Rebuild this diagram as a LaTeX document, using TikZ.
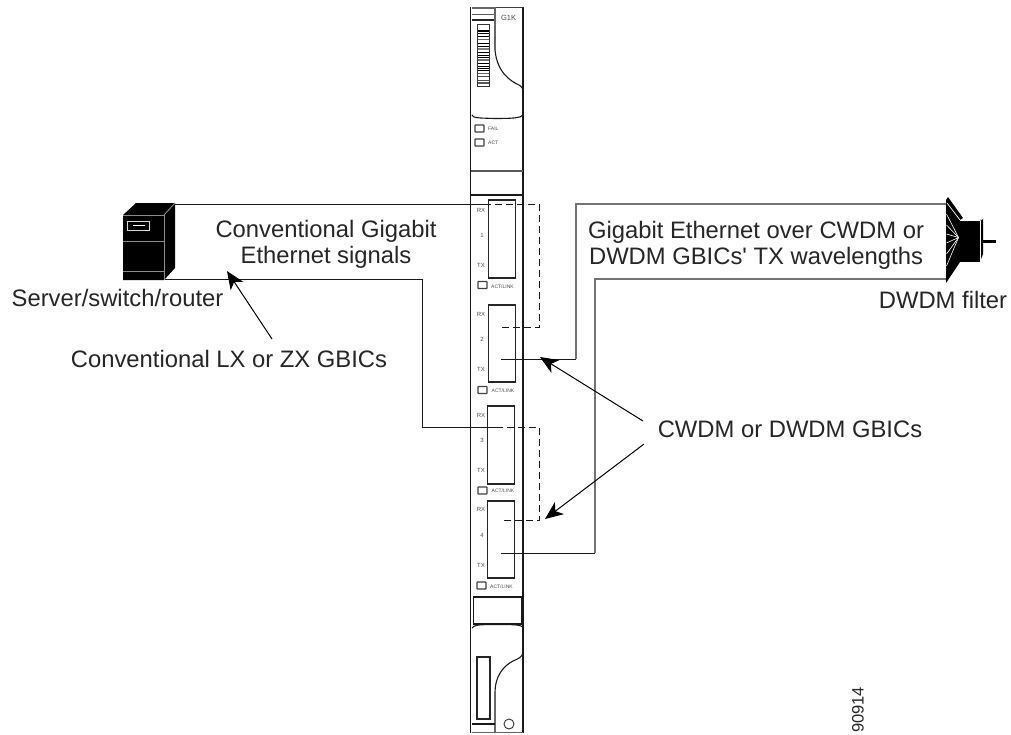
\documentclass[tikz,border=0pt]{standalone}
\usepackage{fontspec}
\newfontfamily\plainsans{Liberation Sans}
\usetikzlibrary{arrows.meta}
\tikzset{
  x=1pt,y=-1pt,
  lbl/.style={font=\plainsans\fontsize{23.8}{25.5}\selectfont,text=black!85,inner sep=0pt,align=center},
  tiny/.style={font=\plainsans\fontsize{5}{6}\selectfont,text=black!70,inner sep=0pt},
  small/.style={font=\plainsans\fontsize{6}{7}\selectfont,text=black!70,inner sep=0pt},
  panel/.style={line width=1.1pt,black!90},
  modbox/.style={draw=black!85,line width=1.1pt,minimum width=27pt,inner sep=0pt,fill=none},
  ledbox/.style={draw=black!75,line width=1.1pt,minimum width=9pt,minimum height=7pt,inner sep=0pt,rounded corners=0.5pt},
  cable/.style={line width=1pt,black!90},
  gcable/.style={line width=1.4pt,black!55},
  dcable/.style={line width=1pt,black!90,dash pattern=on 7pt off 4pt},
  callout/.style={line width=1pt,black,-{Stealth[length=18pt,width=15pt,inset=5pt]}},
}
\begin{document}
\begin{tikzpicture}
\useasboundingbox (0,0) rectangle (1011,734);
% --- card outline
\draw[panel] (470.5,7) -- (470.5,733);
\draw[panel] (523,7) -- (523,733);
\draw[line width=1.6pt,black!75] (495,7.5) -- (523,7.5);
\draw[line width=1.2pt,black!60] (472,8) -- (495,8);
\draw[line width=1.3pt,black!65] (472,14.5) -- (495,14.5);
\draw[line width=1.1pt,black!85] (472,20) -- (495,20);
\draw[line width=1.2pt,black!60] (495,7) -- (495,50);
\draw[panel] (495,50) .. controls (497,72) and (510,81) .. (519,85) .. controls (522,87) and (523,88) .. (523,92);
% barcode
\node[draw=black!80,line width=0.9pt,minimum width=11.5pt,minimum height=62pt,inner sep=0pt] (bar) at (483.3,55) {};
\foreach \yy/\ww/\cc in {31/1.3/black,33/1/black,36/0.8/black,39/1/black!60,43/1/black,46/0.8/black,49/2/black!50,52/1/black,55/0.8/black,57/0.8/black,60/2/black!55,63/1/black,66/1/black,68/1/black,70/1/black,73/1/black!60,76/0.8/black!70,80/1/black!70,83/2.4/black!65}
  \draw[line width=\ww pt,\cc] (478,\yy) -- (488.7,\yy);
% curve under latch
\draw[panel] (472,115) .. controls (473,118) and (478,118) .. (495,118.5) .. controls (512,118.5) and (521,118) .. (523,115);
% LEDs
\node[ledbox] (fail) at (479.5,128.5) {};
\node[ledbox] (act) at (479.5,142.5) {};
\node[tiny,anchor=west] at (488,129) {FAIL};
\node[tiny,anchor=west] at (488,143) {ACT};
\node[font=\plainsans\fontsize{7.5}{9}\selectfont,text=black!70,inner sep=0pt] at (508.5,18) {G1K};
\draw[line width=1.3pt,black!65] (470.5,171) -- (523,171);
\draw[line width=1.1pt,black!90] (471,195) -- (523,195);
% --- modules
\node[modbox,minimum height=78pt] (m1) at (501.7,239) {};
\node[modbox,minimum height=77pt] (m2) at (501.7,343.5) {};
\node[modbox,minimum height=78pt] (m3) at (501.3,445) {};
\node[modbox,minimum height=77pt] (m4) at (501.3,539.5) {};
\foreach \rx/\n/\tx/\nn in {210/1/265/1,314/2/369/2,415/3/470/3,509/4/565/4}{
  \pgfmathtruncatemacro{\mid}{(\rx+\tx)/2-2}
  \node[small] at (481,\rx) {RX};
  \node[small] at (482,\mid) {\n};
  \node[small] at (481,\tx) {TX};
}
\node[ledbox] (l1) at (482.5,285) {};
\node[ledbox] (l2) at (482.5,390) {};
\node[ledbox] (l3) at (482.5,490.5) {};
\node[ledbox] (l4) at (481.5,585.5) {};
\node[tiny,anchor=west] at (491,287) {ACT/LINK};
\node[tiny,anchor=west] at (491.5,391) {ACT/LINK};
\node[tiny,anchor=west] at (491.5,491) {ACT/LINK};
\node[tiny,anchor=west] at (490,587) {ACT/LINK};
% --- bottom of card
\node[draw=black!90,line width=1.1pt,minimum width=48pt,minimum height=27pt,inner sep=0pt] (lat) at (497.5,610.5) {};
\draw[panel] (472,628) .. controls (474,625) and (478,624.5) .. (495,624.5) .. controls (512,624.5) and (520,624.5) .. (523,627);
\draw[panel] (523,653) .. controls (522,657) and (518,659) .. (513,661) .. controls (503,666) and (495,677) .. (495,692) -- (495,733);
\node[draw=black!85,line width=1.1pt,minimum width=13pt,minimum height=62pt,inner sep=0pt] (slot) at (483.5,688) {};
\draw[panel] (472,724) -- (495,724);
\draw[line width=1.1pt,black!60] (472,732.5) -- (523,732.5);
\node[draw=black!80,line width=0.9pt,circle,minimum size=10pt,inner sep=0pt] (hole) at (509,724) {};
% --- server
\fill[black] (123,215) -- (136,203) -- (175,203) -- (175,268) -- (164,280) -- (123,280) -- cycle;
\draw[line width=0.9pt,black!45] (123,215) -- (164,215) -- (164,280);
\draw[line width=0.9pt,black!45] (164,215) -- (175,203);
\draw[line width=0.9pt,black!45] (123,241) -- (164,241);
\draw[line width=0.9pt,black!45] (123,271) -- (164,271);
\node[draw=white!85!black,line width=0.9pt,minimum width=22pt,minimum height=9pt,inner sep=0pt] (win) at (138,225.5) {};
\draw[white,line width=0.9pt] (133,225.5) -- (145,225.5);
% --- filter
\fill[black] (946,200) -- (948,197) -- (963,218) -- (960,220) -- (960,262) -- (946,283) -- cycle;
\fill[black] (960,220) rectangle (980,262);
\fill[black] (980,220) -- (983,218) -- (983,254) -- (980,262) -- cycle;
\draw[white,line width=0.7pt] (963,218.5) -- (983,218.5);
\draw[white,line width=0.7pt] (960,220.5) -- (980,220.5) -- (983,218.5);
\draw[white,line width=0.7pt] (980,220.5) -- (980,262);
\draw[white,line width=0.7pt] (947,203) -- (960,220);
\foreach \yy in {214,225,234,243,254,266}
  \draw[white,line width=0.6pt] (958.5,237.5) -- (946.5,\yy);
\fill[black] (983,239.5) rectangle (996,243);
% --- connectors
\coordinate (srvTop) at (175,204);
\coordinate (srvBot) at (165,279);
\coordinate (fTop) at (946,204);
\coordinate (fBot) at (946,279);
\coordinate (m1d) at (488,204);
\coordinate (m2d) at (502,327.5);
\coordinate (m2t) at (501,359);
\coordinate (m3d) at (502,427);
\coordinate (m4d) at (504,520.5);
\coordinate (m4t) at (501,553);
\draw[cable] (srvTop) -- (m1d);
\draw[dcable] (m2d) -- (539,327.5) -- (539,204) -- (m1d);
\draw[cable] (srvBot) -- (422.5,279) -- (422.5,427) -- (m3d);
\draw[dcable] (m4d) -- (539,520.5) -- (539,427) -- (m3d);
\draw[gcable] (fTop) -- (576,204) -- (576,359);
\draw[cable] (576,359) -- (m2t);
\draw[gcable] (fBot) -- (595,279) -- (595,553);
\draw[cable] (595,553) -- (m4t);
% --- callouts
\coordinate (lxTail) at (272,339);
\coordinate (lxTip) at (227,271);
\coordinate (cTail1) at (643,421);
\coordinate (cTip1) at (540,357);
\coordinate (cTail2) at (644,444);
\coordinate (cTip2) at (545,519);
\draw[callout] (lxTail) -- (lxTip);
\draw[callout] (cTail1) -- (cTip1);
\draw[callout] (cTail2) -- (cTip2);
% --- labels
\node[lbl] (t1) at (326,244.5) {Conventional Gigabit\\Ethernet signals};
\node[lbl] (t2) at (756,245.5) {Gigabit Ethernet over CWDM or\\DWDM GBICs' TX wavelengths};
\node[lbl] (t3) at (117.5,298) {Server/switch/router};
\node[lbl] (t4) at (229,358.5) {Conventional LX or ZX GBICs};
\node[lbl] (t5) at (790,429) {CWDM or DWDM GBICs};
\node[lbl] (t6) at (943,300) {DWDM filter};
\node[font=\plainsans\fontsize{16.5}{18}\selectfont,text=black!85,inner sep=0pt,rotate=90] (t7) at (858,710) {90914};
\end{tikzpicture}
\end{document}
